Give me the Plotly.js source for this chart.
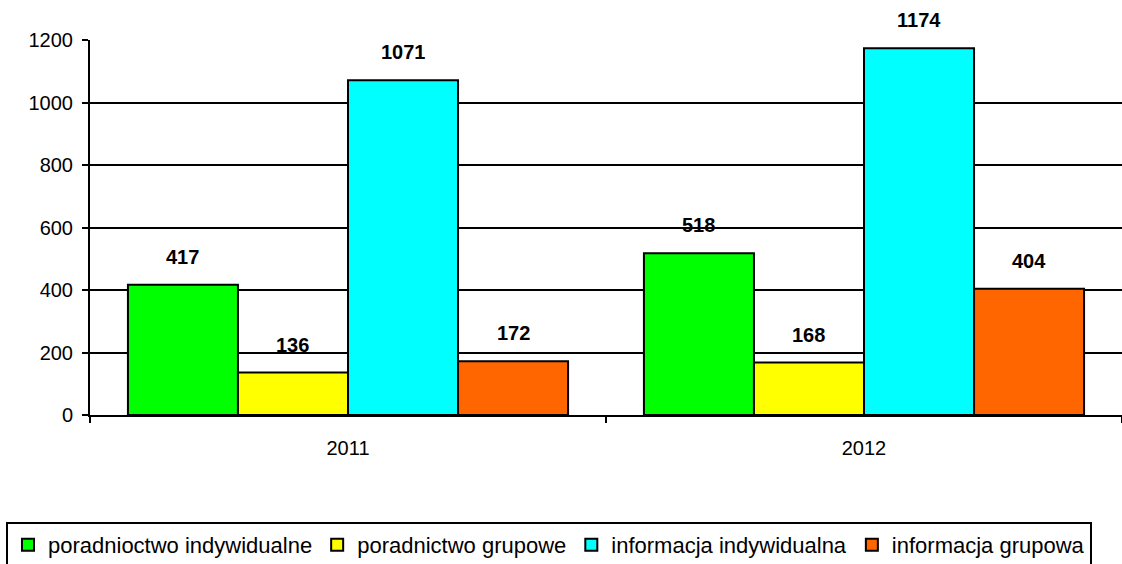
<!DOCTYPE html>
<html>
<head>
<meta charset="utf-8">
<script src="https://cdn.plot.ly/plotly-3.0.1.min.js"></script>
<style>
html,body{margin:0;padding:0;background:#fff;}
#chart{width:1122px;height:564px;}
</style>
</head>
<body>
<div id="chart"></div>
<script>
const years = ['2011', '2012'];
const seriesNames = ['poradnioctwo indywidualne', 'poradnictwo grupowe', 'informacja indywidualna', 'informacja grupowa'];
const poradnioctwoIndywidualne = [417, 518];
const poradnictwoGrupowe = [136, 168];
const informacjaIndywidualna = [1071, 1174];
const informacjaGrupowa = [172, 404];
const yTicks = [0, 200, 400, 600, 800, 1000, 1200];

const seriesValues = [poradnioctwoIndywidualne, poradnictwoGrupowe, informacjaIndywidualna, informacjaGrupowa];
const colors = ['#00FF00', '#FFFF00', '#00FFFF', '#FF6600'];
const FONT = 'Arial, "Liberation Sans", sans-serif';
const bargap = 0.147;
const labelLift = 15;

const traces = seriesValues.map((vals, i) => ({
  type: 'bar',
  name: seriesNames[i],
  x: years,
  y: vals,
  marker: {color: colors[i], line: {color: '#000', width: 2}},
  hoverinfo: 'skip'
}));

const barW = (1 - bargap) / seriesValues.length;
const annotations = [];
seriesValues.forEach((vals, i) => {
  vals.forEach((v, k) => {
    annotations.push({
      x: k + (i - (seriesValues.length - 1) / 2) * barW,
      y: v,
      xref: 'x', yref: 'y',
      text: '<b>' + v + '</b>',
      showarrow: false,
      yanchor: 'bottom',
      yshift: labelLift,
      font: {family: FONT, size: 20, color: '#000'}
    });
  });
});

const layout = {
  width: 1122, height: 564,
  margin: {l: 90, r: 0, t: 40, b: 149, autoexpand: false},
  paper_bgcolor: '#fff', plot_bgcolor: '#fff',
  font: {family: FONT, size: 20, color: '#000'},
  barmode: 'group',
  bargap: bargap,
  bargroupgap: 0,
  showlegend: true,
  legend: {
    orientation: 'h',
    x: -0.0814, xanchor: 'left',
    y: -0.2853, yanchor: 'top',
    bordercolor: '#000', borderwidth: 2, bgcolor: '#fff',
    font: {family: FONT, size: 22, color: '#000'},
    itemwidth: 30,
    traceorder: 'normal'
  },
  xaxis: {
    type: 'category',
    showline: true, linecolor: '#000', linewidth: 2,
    ticks: 'outside', tickson: 'boundaries', ticklen: 6, tickcolor: '#000', tickwidth: 2,
    ticklabelstandoff: 14,
    showgrid: false, zeroline: false,
    tickfont: {family: FONT, size: 20, color: '#000'},
    fixedrange: true
  },
  yaxis: {
    range: [0, 1200],
    tickvals: yTicks,
    ticktext: yTicks.map(String),
    showline: true, linecolor: '#000', linewidth: 2,
    ticks: 'outside', ticklen: 6, tickcolor: '#000', tickwidth: 2,
    ticklabelstandoff: 5,
    showgrid: true, gridcolor: '#000', gridwidth: 2,
    zeroline: false,
    tickfont: {family: FONT, size: 20, color: '#000'},
    fixedrange: true
  },
  annotations: annotations
};

Plotly.newPlot('chart', traces, layout, {displayModeBar: false, staticPlot: true});
</script>
</body>
</html>
